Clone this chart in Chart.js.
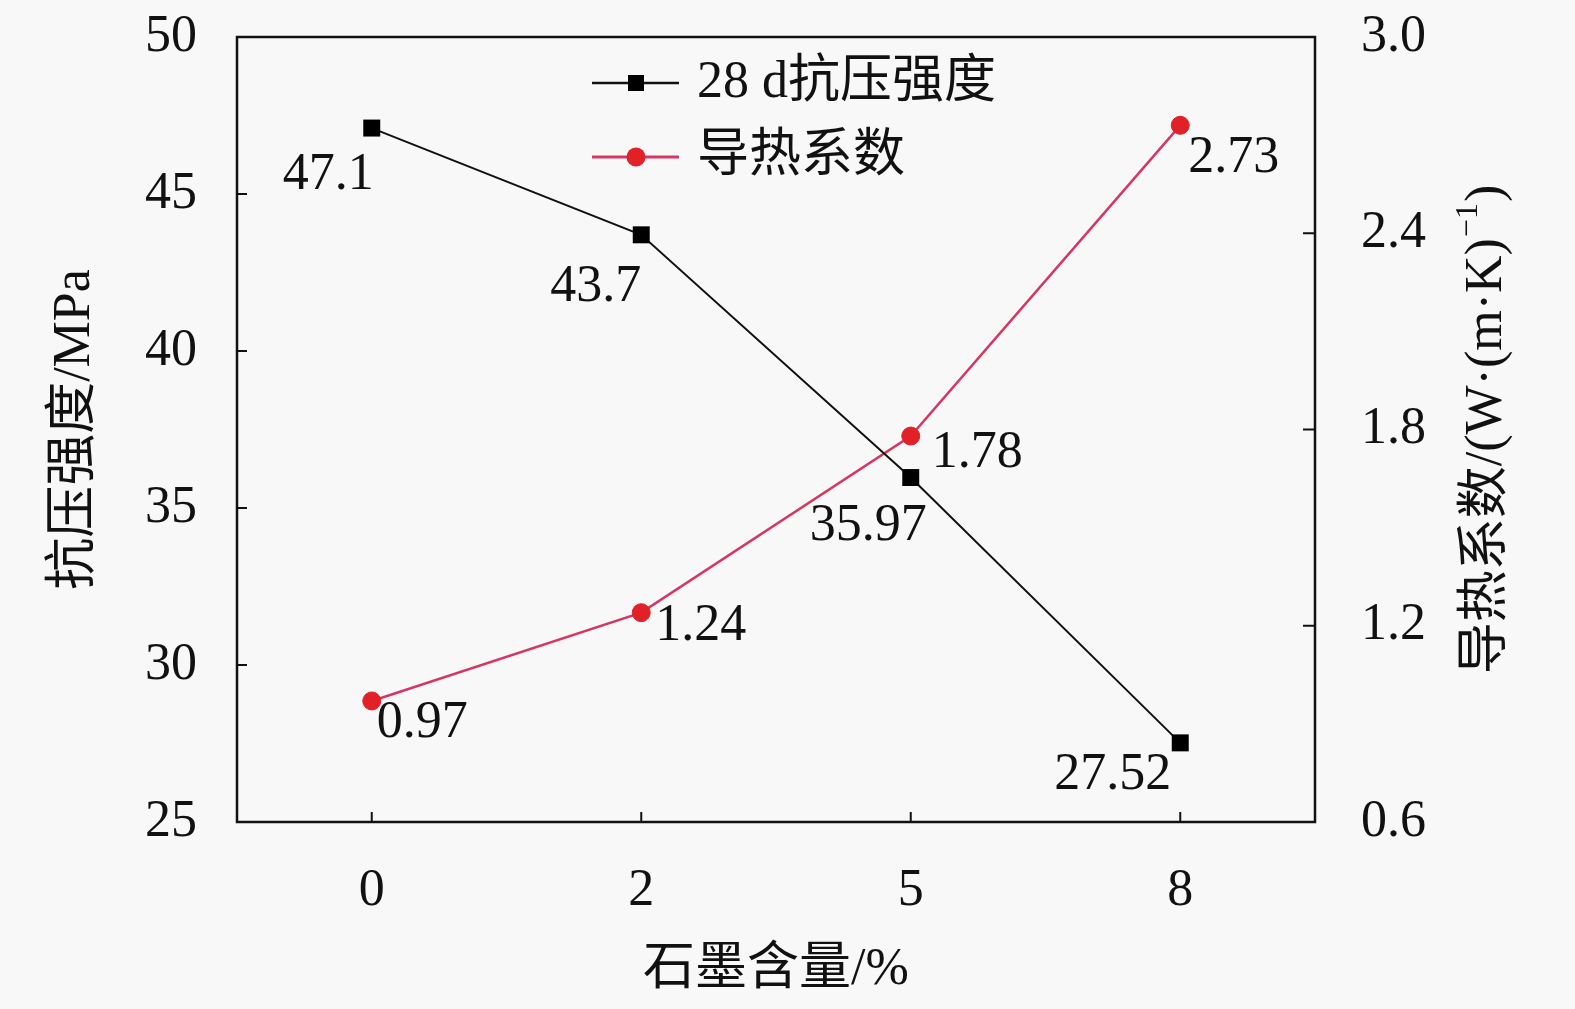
<!DOCTYPE html>
<html>
<head>
<meta charset="utf-8">
<script src="https://cdn.jsdelivr.net/npm/chart.js@4.4.1/dist/chart.umd.min.js"></script>
<style>
  html, body { margin: 0; padding: 0; overflow: hidden; background: #f8f8f8; }
  #wrap { width: 1575px; height: 1009px; position: relative; }
  canvas { display: block; }
</style>
</head>
<body>
<div id="wrap"><canvas id="myChart"></canvas></div>
<script>
// données
const categories = ['0', '2', '5', '8'];
const strength = [47.1, 43.7, 35.97, 27.52];
const conductivity = [0.97, 1.24, 1.78, 2.73];
const leftTicks = [25, 30, 35, 40, 45, 50];
const rightTicks = [0.6, 1.2, 1.8, 2.4, 3.0];

const FAMILY = '"Liberation Serif", "Noto Sans CJK SC", serif';
const FONT = '52px ' + FAMILY;
const lineBlack = '#111111';
const linePink = 'rgb(214, 54, 100)';
const dotRed = 'rgb(226, 32, 40)';

// décalages des étiquettes (dx, dy) par point
const strengthLabelPos = [[2, 47], [0, 53], [16, 49], [-9, 32]];
const condLabelPos = [[5, 22], [14, 14], [21, 17], [8, 33]];

const framePlugin = {
    id: 'frame',
    afterDatasetsDraw(chart) {
        const ctx = chart.ctx;
        const a = chart.chartArea;
        const sx = chart.scales.x, sy = chart.scales.y, sy1 = chart.scales.y1;
        ctx.save();
        ctx.strokeStyle = '#111';
        ctx.lineWidth = 2.5;
        ctx.strokeRect(a.left, a.top, a.right - a.left, a.bottom - a.top);
        ctx.lineWidth = 2;
        // petites graduations vers l'intérieur
        leftTicks.forEach(v => {
            const y = sy.getPixelForValue(v);
            ctx.beginPath(); ctx.moveTo(a.left, y); ctx.lineTo(a.left + 10, y); ctx.stroke();
        });
        rightTicks.forEach(v => {
            const y = sy1.getPixelForValue(v);
            ctx.beginPath(); ctx.moveTo(a.right, y); ctx.lineTo(a.right - 12, y); ctx.stroke();
        });
        categories.forEach((c, i) => {
            const x = sx.getPixelForTick(i);
            ctx.beginPath(); ctx.moveTo(x, a.bottom); ctx.lineTo(x, a.bottom - 10); ctx.stroke();
        });
        ctx.restore();
    },
    afterDraw(chart) {
        const ctx = chart.ctx;
        const a = chart.chartArea;
        ctx.save();
        ctx.fillStyle = '#111';
        ctx.font = FONT;
        ctx.textBaseline = 'middle';

        // étiquettes des valeurs
        const m0 = chart.getDatasetMeta(0), m1 = chart.getDatasetMeta(1);
        ctx.textAlign = 'right';
        m0.data.forEach((p, i) => {
            ctx.fillText(String(strength[i]), p.x + strengthLabelPos[i][0], p.y + strengthLabelPos[i][1]);
        });
        ctx.textAlign = 'left';
        m1.data.forEach((p, i) => {
            ctx.fillText(String(conductivity[i]), p.x + condLabelPos[i][0], p.y + condLabelPos[i][1]);
        });

        // légende
        const lx0 = a.left + 355, lx1 = a.left + 442, mx = a.left + 399, tx = a.left + 460;
        const rows = [[a.top + 46, 0], [a.top + 120, 1]];
        rows.forEach(([y, di]) => {
            const ds = chart.data.datasets[di];
            ctx.strokeStyle = ds.borderColor;
            ctx.lineWidth = ds.borderWidth + 0.5;
            ctx.beginPath(); ctx.moveTo(lx0, y); ctx.lineTo(lx1, y); ctx.stroke();
            ctx.fillStyle = ds.pointBackgroundColor;
            if (di === 0) {
                ctx.fillRect(mx - 8, y - 8, 16, 16);
            } else {
                ctx.beginPath(); ctx.arc(mx, y, 9.5, 0, Math.PI * 2); ctx.fill();
            }
            ctx.fillStyle = '#111';
            ctx.textAlign = 'left';
            ctx.fillText(ds.label, tx, y);
        });

        // titres des axes
        const cy = (a.top + a.bottom) / 2;
        ctx.textAlign = 'center';
        ctx.fillText('石墨含量/%', (a.left + a.right) / 2, 970);

        ctx.save();
        ctx.translate(75, cy);
        ctx.rotate(-Math.PI / 2);
        ctx.fillText('抗压强度/MPa', 0, 0);
        ctx.restore();

        // titre de droite, lu de bas en haut, avec exposant
        const main = '导热系数/(W·(m·K)';
        const sup = '−1';
        const tail = ')';
        ctx.font = FONT;
        const wMain = ctx.measureText(main).width;
        const wTail = ctx.measureText(tail).width;
        ctx.font = '32px ' + FAMILY;
        const wSup = ctx.measureText(sup).width;
        const total = wMain + wSup + wTail + 2;
        ctx.save();
        ctx.translate(1487, cy);
        ctx.rotate(-Math.PI / 2);
        ctx.textAlign = 'left';
        let x = -total / 2;
        ctx.font = FONT;
        ctx.fillText(main, x, 0);
        x += wMain + 1;
        ctx.font = '32px ' + FAMILY;
        ctx.fillText(sup, x, -18);
        x += wSup + 1;
        ctx.font = FONT;
        ctx.fillText(tail, x, 0);
        ctx.restore();

        ctx.restore();
    }
};

var ctx1 = document.getElementById('myChart').getContext('2d');
var myChart = new Chart(ctx1, {
    type: 'line',
    data: {
        labels: categories,
        datasets: [{
            label: '28 d抗压强度',
            data: strength,
            yAxisID: 'y',
            borderColor: lineBlack,
            borderWidth: 2,
            pointStyle: 'rect',
            pointRadius: 12,
            pointBackgroundColor: '#000',
            pointBorderColor: '#000',
            pointBorderWidth: 0,
            tension: 0
        }, {
            label: '导热系数',
            data: conductivity,
            yAxisID: 'y1',
            borderColor: linePink,
            borderWidth: 2.5,
            pointStyle: 'circle',
            pointRadius: 9,
            pointBackgroundColor: dotRed,
            pointBorderColor: dotRed,
            pointBorderWidth: 1,
            tension: 0
        }]
    },
    options: {
        responsive: true,
        maintainAspectRatio: false,
        animation: false,
        layout: { padding: { top: 37, left: 0, right: 0, bottom: 0 } },
        plugins: {
            legend: { display: false },
            tooltip: { enabled: false }
        },
        scales: {
            x: {
                offset: true,
                grid: { display: false, drawTicks: false },
                border: { display: false },
                ticks: { color: '#111', font: { size: 52, family: FAMILY }, padding: 38 },
                afterFit(s) { s.height = 187; s.paddingLeft = 0; s.paddingRight = 0; }
            },
            y: {
                position: 'left',
                min: 25, max: 50,
                afterBuildTicks(s) { s.ticks = leftTicks.map(v => ({ value: v })); },
                grid: { display: false, drawTicks: false },
                border: { display: false },
                ticks: { color: '#111', font: { size: 52, family: FAMILY }, padding: 40 },
                afterFit(s) { s.width = 237; s.paddingTop = 0; s.paddingBottom = 0; }
            },
            y1: {
                position: 'right',
                min: 0.6, max: 3.0,
                afterBuildTicks(s) { s.ticks = rightTicks.map(v => ({ value: v })); },
                grid: { display: false, drawTicks: false },
                border: { display: false },
                ticks: {
                    color: '#111', font: { size: 52, family: FAMILY }, padding: 46,
                    callback: v => Number(v).toFixed(1)
                },
                afterFit(s) { s.width = 260; s.paddingTop = 0; s.paddingBottom = 0; }
            }
        }
    },
    plugins: [framePlugin]
});
</script>
</body>
</html>
